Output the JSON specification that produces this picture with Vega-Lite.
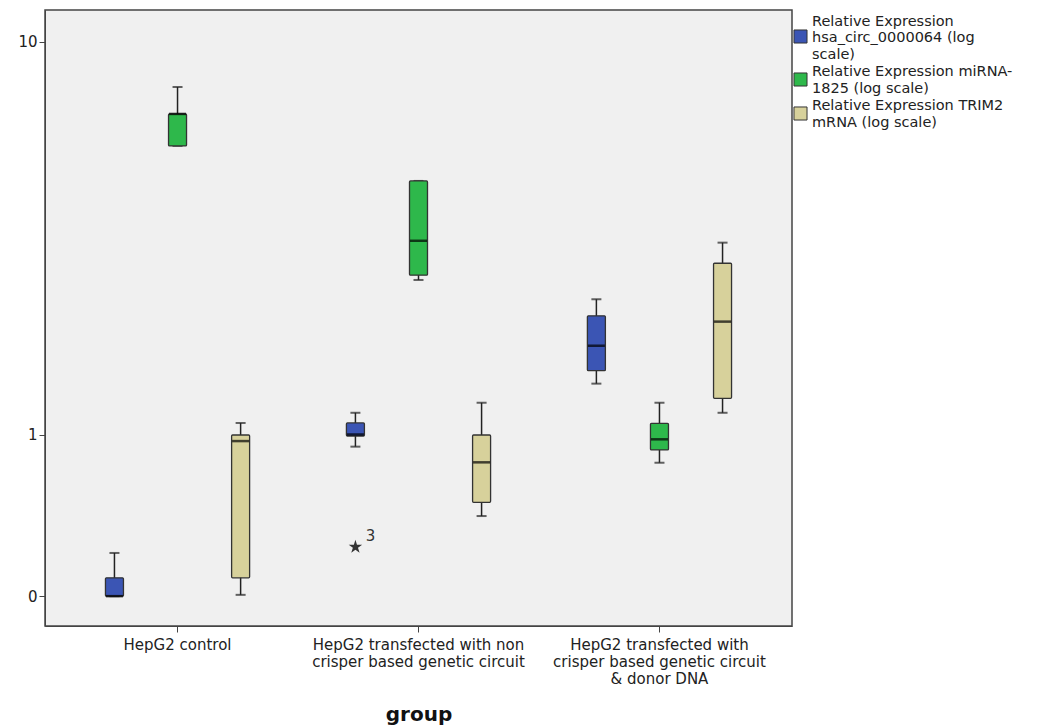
{
  "$schema": "https://vega.github.io/schema/vega-lite/v6.json",
  "autosize": {"type": "none"},
  "padding": {"left": 45, "top": 10, "right": 249, "bottom": 102},
  "width": 747,
  "height": 616,
  "background": "#ffffff",
  "config": {
    "view": {"fill": "#f0f0f0", "stroke": "#444444", "strokeWidth": 1.5},
    "font": "DejaVu Sans"
  },
  "datasets": {
    "boxes": [
      {"group": "HepG2 control", "series": "Relative Expression hsa_circ_0000064 (log scale)", "min": 0.389, "q1": 0.389, "median": 0.389, "q3": 0.433, "max": 0.501},
      {"group": "HepG2 control", "series": "Relative Expression miRNA-1825 (log scale)", "min": 5.44, "q1": 5.44, "median": 6.56, "q3": 6.56, "max": 7.68},
      {"group": "HepG2 control", "series": "Relative Expression TRIM2 mRNA (log scale)", "min": 0.392, "q1": 0.433, "median": 0.965, "q3": 1.0, "max": 1.073},
      {"group": "HepG2 transfected with non crisper based genetic circuit", "series": "Relative Expression hsa_circ_0000064 (log scale)", "min": 0.934, "q1": 0.994, "median": 1.003, "q3": 1.073, "max": 1.139},
      {"group": "HepG2 transfected with non crisper based genetic circuit", "series": "Relative Expression miRNA-1825 (log scale)", "min": 2.48, "q1": 2.55, "median": 3.12, "q3": 4.43, "max": 4.43},
      {"group": "HepG2 transfected with non crisper based genetic circuit", "series": "Relative Expression TRIM2 mRNA (log scale)", "min": 0.622, "q1": 0.674, "median": 0.852, "q3": 1.0, "max": 1.208},
      {"group": "HepG2 transfected with crisper based genetic circuit & donor DNA", "series": "Relative Expression hsa_circ_0000064 (log scale)", "min": 1.351, "q1": 1.458, "median": 1.687, "q3": 2.01, "max": 2.215},
      {"group": "HepG2 transfected with crisper based genetic circuit & donor DNA", "series": "Relative Expression miRNA-1825 (log scale)", "min": 0.85, "q1": 0.916, "median": 0.975, "q3": 1.071, "max": 1.208},
      {"group": "HepG2 transfected with crisper based genetic circuit & donor DNA", "series": "Relative Expression TRIM2 mRNA (log scale)", "min": 1.139, "q1": 1.24, "median": 1.943, "q3": 2.735, "max": 3.086}
    ],
    "outliers": [
      {"group": "HepG2 transfected with non crisper based genetic circuit", "series": "Relative Expression hsa_circ_0000064 (log scale)", "value": 0.519, "case": "3"}
    ]
  },
  "encoding": {
    "x": {
      "field": "group", "type": "nominal",
      "sort": ["HepG2 control", "HepG2 transfected with non crisper based genetic circuit", "HepG2 transfected with crisper based genetic circuit & donor DNA"],
      "scale": {"paddingInner": 0, "paddingOuter": 0.05},
      "axis": {
        "title": "group", "titleFontWeight": "bold", "titleFontSize": 20, "titleFont": "DejaVu Sans", "titleColor": "#111111", "titlePadding": 18,
        "labelAngle": 0, "labelFontSize": 15, "labelColor": "#222222", "labelLimit": 0, "labelLineHeight": 17, "labelPadding": 5,
        "labelExpr": "datum.label == 'HepG2 control' ? 'HepG2 control' : datum.label == 'HepG2 transfected with non crisper based genetic circuit' ? ['HepG2 transfected with non', 'crisper based genetic circuit'] : ['HepG2 transfected with', 'crisper based genetic circuit', '& donor DNA']",
        "domainColor": "#444444", "tickColor": "#444444", "tickSize": 6, "grid": false
      }
    },
    "xOffset": {
      "field": "series", "type": "nominal",
      "sort": ["Relative Expression hsa_circ_0000064 (log scale)", "Relative Expression miRNA-1825 (log scale)", "Relative Expression TRIM2 mRNA (log scale)"],
      "scale": {"paddingInner": 0, "paddingOuter": 0.41}
    }
  },
  "layer": [
    {
      "data": {"name": "boxes"},
      "mark": {"type": "rule", "color": "#222222", "strokeWidth": 1.5},
      "encoding": {
        "y": {"field": "min", "type": "quantitative",
          "scale": {"type": "log", "domain": [0.3266, 12.06], "nice": false, "zero": false},
          "axis": {"title": null, "values": [0.389, 1, 10], "format": ".0f", "labelFontSize": 15, "labelColor": "#222222", "domainColor": "#444444", "tickColor": "#444444", "tickSize": 6, "grid": false, "labelPadding": 2}},
        "y2": {"field": "max"}
      }
    },
    {
      "data": {"name": "boxes"},
      "mark": {"type": "tick", "color": "#222222", "thickness": 2, "size": 10},
      "encoding": {"y": {"field": "min", "type": "quantitative"}}
    },
    {
      "data": {"name": "boxes"},
      "mark": {"type": "tick", "color": "#222222", "thickness": 2, "size": 10},
      "encoding": {"y": {"field": "max", "type": "quantitative"}}
    },
    {
      "data": {"name": "boxes"},
      "mark": {"type": "bar", "width": 18, "stroke": "#333333", "strokeWidth": 1.3, "opacity": 1, "cornerRadius": 1},
      "encoding": {
        "y": {"field": "q1", "type": "quantitative"},
        "y2": {"field": "q3"},
        "color": {
          "field": "series", "type": "nominal",
          "scale": {"domain": ["Relative Expression hsa_circ_0000064 (log scale)", "Relative Expression miRNA-1825 (log scale)", "Relative Expression TRIM2 mRNA (log scale)"], "range": ["#3b55b4", "#2eb84b", "#d7d19b"]},
          "legend": {
            "title": null, "orient": "right", "offset": -18, "padding": 19,
            "symbolType": "square", "symbolSize": 170, "symbolStrokeColor": "#333333", "symbolStrokeWidth": 1, "symbolOpacity": 1,
            "labelFontSize": 14.5, "labelColor": "#222222", "labelLimit": 0, "labelLineHeight": 15, "labelOffset": 4, "rowPadding": 3,
            "labelExpr": "datum.label == 'Relative Expression hsa_circ_0000064 (log scale)' ? ['Relative Expression', 'hsa_circ_0000064 (log', 'scale)'] : datum.label == 'Relative Expression miRNA-1825 (log scale)' ? ['Relative Expression miRNA-', '1825 (log scale)'] : ['Relative Expression TRIM2', 'mRNA (log scale)']",
            "encode": {"labels": {"update": {"dy": {"signal": "datum.index == 0 ? -15 : -7.5"}}}}
          }
        }
      }
    },
    {
      "data": {"name": "boxes"},
      "mark": {"type": "tick", "color": "#000000", "thickness": 2.5, "size": 17},
      "encoding": {"y": {"field": "median", "type": "quantitative"}}
    },
    {
      "data": {"name": "outliers"},
      "mark": {"type": "point", "shape": "M0,-1L0.22,-0.3L0.95,-0.3L0.36,0.12L0.59,0.81L0,0.38L-0.59,0.81L-0.36,0.12L-0.95,-0.3L-0.22,-0.3Z", "filled": true, "color": "#333333", "size": 200, "opacity": 1},
      "encoding": {"y": {"field": "value", "type": "quantitative"}}
    },
    {
      "data": {"name": "outliers"},
      "mark": {"type": "text", "dx": 15, "dy": -11, "fontSize": 15, "color": "#333333"},
      "encoding": {"y": {"field": "value", "type": "quantitative"}, "text": {"field": "case"}}
    }
  ]
}
